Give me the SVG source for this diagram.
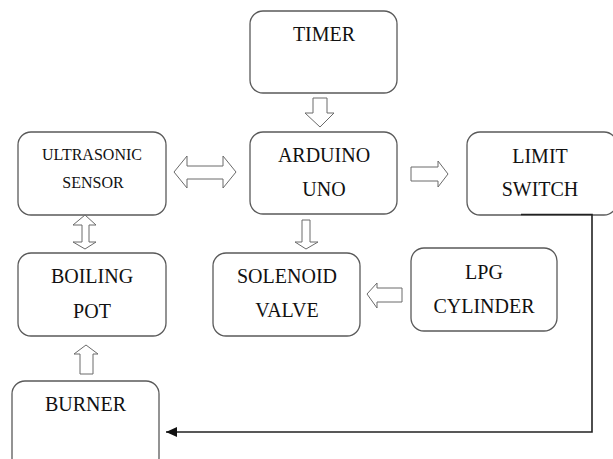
<svg xmlns="http://www.w3.org/2000/svg" width="613" height="459" viewBox="0 0 613 459">
<defs>
<style>
.box{fill:#fff;stroke:#5a5a5a;stroke-width:1.3}
.t{font-family:'Liberation Serif','DejaVu Serif',Times,serif;font-size:20px;fill:#111;text-anchor:middle}
.s{font-size:16px}
.blk{fill:#fff;stroke:#6a6a6a;stroke-width:1}
.ln{fill:none;stroke:#222;stroke-width:1.6}
</style>
<marker id="ah" viewBox="0 0 11 10" refX="11" refY="5" markerWidth="11" markerHeight="10" markerUnits="userSpaceOnUse" orient="auto">
<path d="M0,0 L11,5 L0,10 z" fill="#111"/>
</marker>
</defs>
<rect width="613" height="459" fill="#fff"/>
<g font-family="Liberation Serif, DejaVu Serif, serif">
<g id="timer"><rect class="box" x="250" y="11" width="147" height="82" rx="13"/><text class="t" x="324" y="41">TIMER</text></g>
<g id="arduino"><rect class="box" x="250" y="132" width="147" height="82" rx="13"/><text class="t" x="324" y="162">ARDUINO</text><text class="t" x="324" y="196">UNO</text></g>
<g id="ultrasonic"><rect class="box" x="18" y="132" width="148" height="83" rx="13"/><text class="t s" x="92" y="160">ULTRASONIC</text><text class="t s" x="93" y="188">SENSOR</text></g>
<g id="limit"><rect class="box" x="467" y="132" width="150" height="83" rx="13"/><text class="t" x="540" y="163">LIMIT</text><text class="t" x="540" y="196">SWITCH</text></g>
<g id="boiling"><rect class="box" x="18" y="253" width="148" height="83" rx="13"/><text class="t" x="92" y="283">BOILING</text><text class="t" x="92" y="318">POT</text></g>
<g id="solenoid"><rect class="box" x="213" y="253" width="147" height="83" rx="13"/><text class="t" x="287" y="283">SOLENOID</text><text class="t" x="287" y="317">VALVE</text></g>
<g id="lpg"><rect class="box" x="411" y="248" width="146" height="83" rx="13"/><text class="t" x="484" y="279">LPG</text><text class="t" x="484" y="313">CYLINDER</text></g>
<g id="burner"><rect class="box" x="12" y="381" width="147" height="90" rx="13"/><text class="t" x="85.5" y="411">BURNER</text></g>
</g>
<g id="connectors">
<path class="blk" d="M313,98 H327 V113 H334 L320,127 L305,113 H313 Z"/>
<path class="blk" d="M174,172 L187,156 V166 H223 V156 L236,172 L223,188 V179 H187 V188 Z"/>
<path class="blk" d="M411,167 H438 V161 L448,174 L438,187 V181 H411 Z"/>
<path class="blk" d="M85,215 L96,225 H89 V242 H96 L85,249 L73,242 H82 V225 H73 Z"/>
<path class="blk" d="M302,220 H310 V242 H318 L306,249 L295,242 H302 Z"/>
<path class="blk" d="M367,294 L377,283 V288 H402 V302 H377 V308 Z"/>
<path class="blk" d="M86,345 L98,354 H93 V374 H80 V354 H74 Z"/>
<path class="ln" d="M521,214.5 H592 V432 H166" marker-end="url(#ah)"/>
</g>
</svg>
